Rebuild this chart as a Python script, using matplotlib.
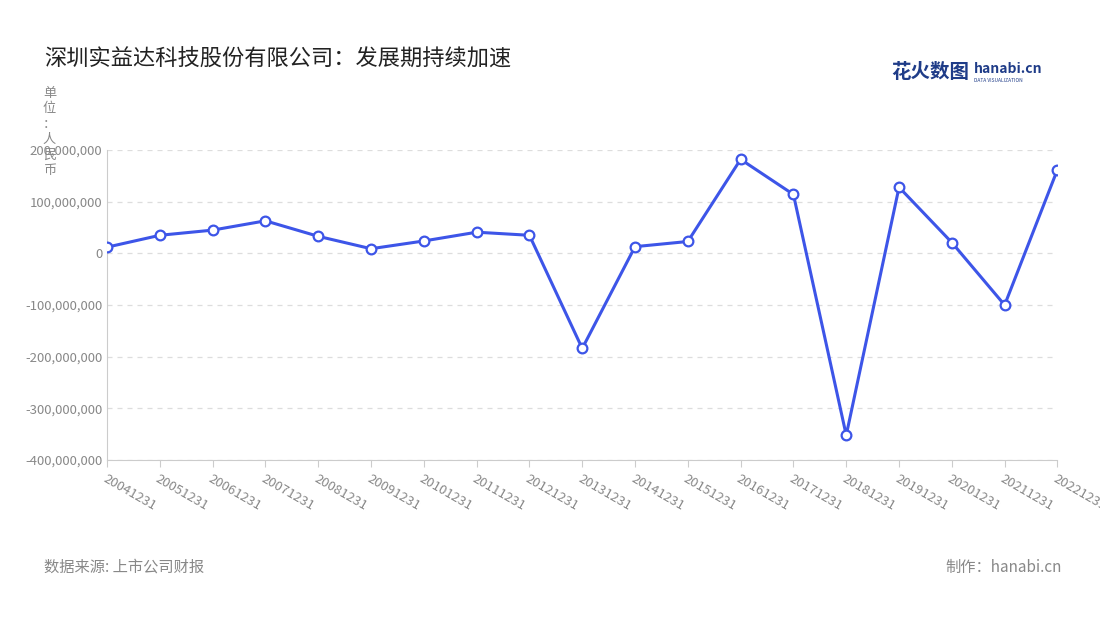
import matplotlib
matplotlib.use("Agg")
import matplotlib.pyplot as plt
from matplotlib.ticker import FuncFormatter

plt.rcParams['font.family'] = ['Noto Sans CJK SC', 'DejaVu Sans']

years = ["20041231", "20051231", "20061231", "20071231", "20081231", "20091231",
         "20101231", "20111231", "20121231", "20131231", "20141231", "20151231",
         "20161231", "20171231", "20181231", "20191231", "20201231", "20211231",
         "20221231"]
values = [12e6, 35e6, 45e6, 63e6, 33e6, 9e6, 24e6, 41e6, 35e6, -184e6, 13e6, 23e6,
          182e6, 114e6, -352e6, 128e6, 21e6, -100e6, 162e6]

LINE = "#3d55e8"
GRAY = "#888888"

fig = plt.figure(figsize=(11, 6.2), dpi=100)
ax = fig.add_axes([0.0973, 0.258, 0.864, 0.5])
x = list(range(len(years)))
ax.plot(x, values, color=LINE, lw=2.2, marker="o", ms=7,
        markerfacecolor="white", markeredgecolor=LINE, markeredgewidth=1.6, zorder=3)
ax.set_xlim(0, len(years) - 1)
ax.set_ylim(-400e6, 200e6)
ax.set_yticks(range(-400_000_000, 200_000_001, 100_000_000))
ax.yaxis.set_major_formatter(FuncFormatter(lambda v, p: f"{int(v):,}"))
ax.set_xticks(x)
ax.set_xticklabels(years, rotation=-30, ha="left", rotation_mode="anchor")
ax.tick_params(axis="both", colors=GRAY, labelsize=9.5, length=0)
ax.tick_params(axis="x", length=5, color="#cccccc", pad=4)
ax.grid(axis="y", color="#dddddd", ls=(0, (4, 4)), lw=0.9)
for s in ["top", "right"]:
    ax.spines[s].set_visible(False)
ax.spines["left"].set_color("#cccccc")
ax.spines["bottom"].set_color("#cccccc")

fig.text(0.04, 0.905, "深圳实益达科技股份有限公司：发展期持续加速", fontsize=16, color="#222222", va="center")
fig.text(0.045, 0.86, "单\n位\n：\n人\n民\n币", fontsize=9.5, color=GRAY, va="top", ha="center", linespacing=1.25)
fig.text(0.81, 0.883, "花火数图", fontsize=14, color="#1f3c88", weight="bold", va="center")
fig.text(0.885, 0.888, "hanabi.cn", fontsize=10, color="#1f3c88", weight="bold", va="center")
fig.text(0.885, 0.87, "DATA VISUALIZATION", fontsize=3.5, color="#1f3c88", va="center")
fig.text(0.04, 0.085, "数据来源: 上市公司财报", fontsize=11, color=GRAY, va="center")
fig.text(0.965, 0.085, "制作：hanabi.cn", fontsize=11, color=GRAY, va="center", ha="right")

fig.savefig("out.png", dpi=100, facecolor="white")
